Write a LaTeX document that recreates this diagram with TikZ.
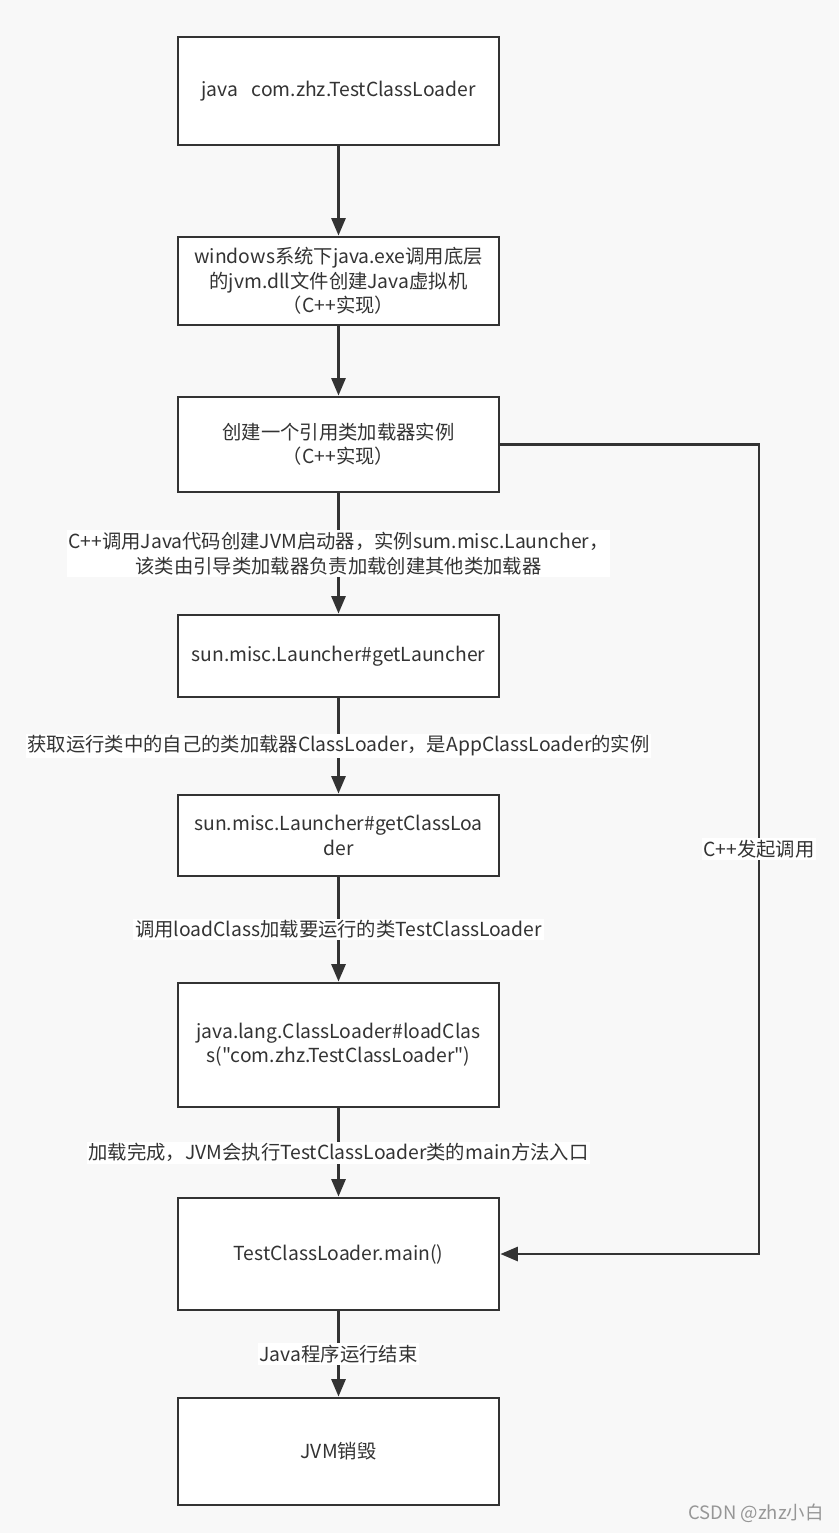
\documentclass[tikz,border=0pt]{standalone}
\usepackage{fontspec}
\newfontfamily\flowfont{Noto Sans CJK SC}
\usetikzlibrary{arrows.meta}
\definecolor{linegray}{RGB}{51,51,51}
\definecolor{bggray}{RGB}{248,248,248}
\definecolor{markgray}{RGB}{150,150,150}
\begin{document}
\begin{tikzpicture}[x=0.02cm,y=-0.02cm,
  flowbox/.style={draw=linegray, fill=white, line width=1.6pt, minimum width=6.42cm,
    inner sep=0pt, align=center, text=linegray, font=\flowfont\fontsize{11}{13.8}\selectfont},
  flowarrow/.style={draw=linegray, line width=1.6pt, -{Triangle[width=8pt,length=10pt]}},
  steplabel/.style={fill=white, text=linegray, align=center, inner sep=1pt,
    font=\flowfont\fontsize{11}{14.2}\selectfont}]
  \fill[bggray] (0,0) rectangle (839,1533);
  \useasboundingbox (0,0) rectangle (839,1533);

  % boxes of the flow
  \node[flowbox, minimum height=2.16cm] (start) at (338.5,91) {java\hspace{0.7em}com.zhz.TestClassLoader};
  \node[flowbox, minimum height=1.76cm] (jvm) at (338.5,281) {windows系统下java.exe调用底层\\的jvm.dll文件创建Java虚拟机\\（C++实现）};
  \node[flowbox, minimum height=1.90cm] (boot) at (338.5,444.5) {创建一个引用类加载器实例\\（C++实现）};
  \node[flowbox, minimum height=1.64cm] (launcher) at (338.5,656) {sun.misc.Launcher\#getLauncher};
  \node[flowbox, minimum height=1.62cm] (getcl) at (338.5,835.5) {sun.misc.Launcher\#getClassLoa\\der};
  \node[flowbox, minimum height=2.48cm] (loadcls) at (338.5,1045) {java.lang.ClassLoader\#loadClas\\s("com.zhz.TestClassLoader")};
  \node[flowbox, minimum height=2.24cm] (mainm) at (338.5,1254) {TestClassLoader.main()};
  \node[flowbox, minimum height=2.14cm] (destroy) at (338.5,1451.5) {JVM销毁};

  % arrows between the boxes
  \draw[flowarrow] (start) -- (jvm);
  \draw[flowarrow] (jvm) -- (boot);
  \draw[flowarrow] (boot) -- node[steplabel] {C++调用Java代码创建JVM启动器，实例sum.misc.Launcher，\\该类由引导类加载器负责加载创建其他类加载器} (launcher);
  \draw[flowarrow] (launcher) -- node[steplabel] {获取运行类中的自己的类加载器ClassLoader，是AppClassLoader的实例} (getcl);
  \draw[flowarrow] (getcl) -- node[steplabel] {调用loadClass加载要运行的类TestClassLoader} (loadcls);
  \draw[flowarrow] (loadcls) -- node[steplabel] {加载完成，JVM会执行TestClassLoader类的main方法入口} (mainm);
  \draw[flowarrow] (mainm) -- node[steplabel] {Java程序运行结束} (destroy);

  % side path
  \coordinate (sidetop) at (759,444.5);
  \coordinate (sidebot) at (759,1254);
  \draw[flowarrow] (boot.east) -- (sidetop) -- node[steplabel] {C++发起调用} (sidebot) -- (mainm.east);

  \node[text=markgray, font=\flowfont\fontsize{10.5}{12}\selectfont] (mark) at (756,1513) {CSDN @zhz小白};
\end{tikzpicture}
\end{document}
